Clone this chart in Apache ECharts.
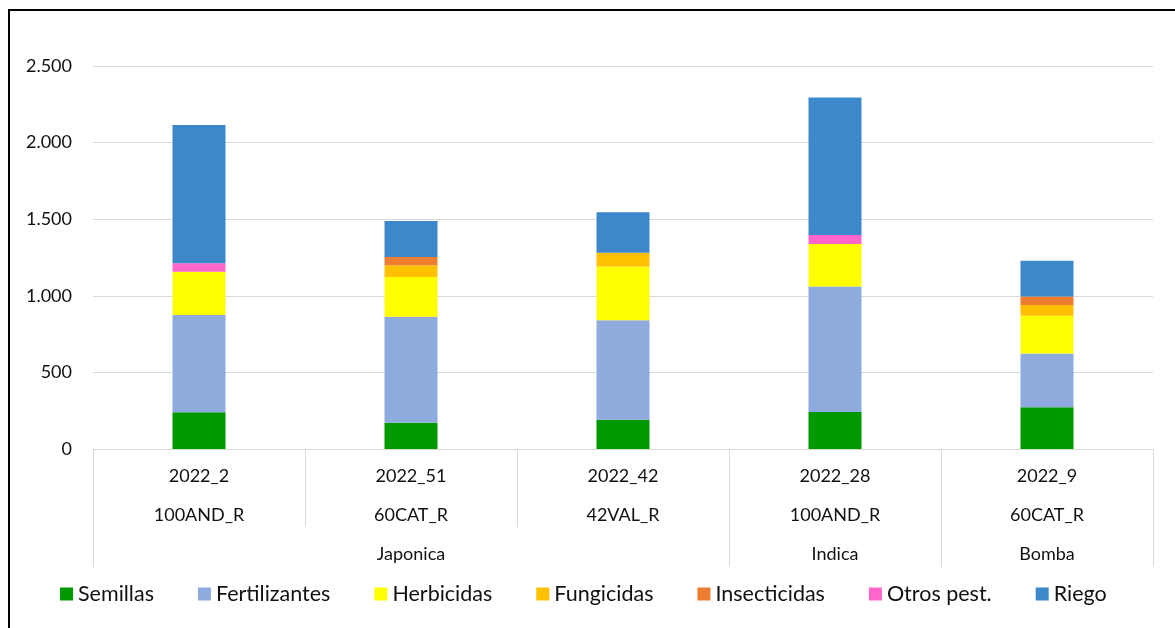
<!DOCTYPE html>
<html>
<head>
<meta charset="utf-8">
<script src="https://cdn.jsdelivr.net/npm/echarts@6/dist/echarts.min.js"></script>
<style>
  html, body { margin: 0; padding: 0; background: #fff; overflow: hidden; }
  #frame { position: absolute; left: 8px; top: 9px; width: 1300px; height: 800px; border: 2px solid #000; }
  #chart { position: absolute; left: 0; top: 0; width: 1175px; height: 628px; }
</style>
</head>
<body>
<div id="frame"></div>
<div id="chart"></div>
<script>
// categories: code + site, and the variety groups below them
const codes = ['2022_2', '2022_51', '2022_42', '2022_28', '2022_9'];
const sites = ['100AND_R', '60CAT_R', '42VAL_R', '100AND_R', '60CAT_R'];
const groups = ['Japonica', 'Indica', 'Bomba'];
const groupSizes = [3, 1, 1];

// stacked cost components
const semillas = [240, 172, 191, 241, 272];
const fertilizantes = [635, 692, 649, 819, 352];
const herbicidas = [282, 259, 352, 278, 246];
const fungicidas = [0, 76, 89, 0, 70];
const insecticidas = [0, 54, 0, 0, 56];
const otros = [55, 0, 0, 59, 0];
const riego = [903, 235, 264, 898, 233];

const seriesNames = ['Semillas', 'Fertilizantes', 'Herbicidas', 'Fungicidas', 'Insecticidas', 'Otros pest.', 'Riego'];
const seriesData = [semillas, fertilizantes, herbicidas, fungicidas, insecticidas, otros, riego];
const colors = ['#009900', '#8FAADC', '#FFFF00', '#FFC000', '#ED7D31', '#FF66CC', '#3D87CB'];

const font = 'Lato';
const textColor = '#111';
const gridColor = '#d9d9d9';

// group boundaries and centres along the category axis (0..n)
const bounds = [0];
const centres = [];
groupSizes.forEach(s => {
  const start = bounds[bounds.length - 1];
  centres.push(start + s / 2);
  bounds.push(start + s);
});

const fmt = v => String(v).replace(/\B(?=(\d{3})+(?!\d))/g, '.');

const chart = echarts.init(document.getElementById('chart'));
chart.setOption({
  animation: false,
  textStyle: { fontFamily: font },
  grid: { left: 93, right: 22, top: 66, bottom: 179 },
  legend: {
    data: seriesNames,
    left: 55,
    top: 578,
    icon: 'rect',
    itemWidth: 13,
    itemHeight: 13,
    itemGap: 44,
    selectedMode: false,
    textStyle: { fontFamily: font, fontSize: 21.5, color: textColor }
  },
  xAxis: [
    {
      type: 'category',
      data: codes.map((c, i) => c + '\n' + sites[i]),
      axisLine: { lineStyle: { color: gridColor, width: 1 } },
      axisTick: { show: true, length: 78, lineStyle: { color: gridColor } },
      axisLabel: {
        interval: 0, margin: 8, lineHeight: 39,
        fontFamily: font, fontSize: 18, color: textColor
      }
    },
    {
      type: 'value',
      position: 'bottom',
      min: 0,
      max: codes.length,
      axisLine: { show: false },
      splitLine: { show: false },
      axisTick: { show: true, length: 118, customValues: bounds, lineStyle: { color: gridColor } },
      axisLabel: {
        customValues: centres,
        margin: 96,
        fontFamily: font, fontSize: 18, color: textColor,
        formatter: v => groups[centres.indexOf(v)] || ''
      }
    }
  ],
  yAxis: {
    type: 'value',
    min: 0,
    max: 2500,
    interval: 500,
    axisLine: { show: false },
    axisTick: { show: false },
    splitLine: { lineStyle: { color: gridColor, width: 1 } },
    axisLabel: { margin: 21, fontFamily: font, fontSize: 18, color: textColor, formatter: fmt }
  },
  series: seriesNames.map((name, i) => ({
    name,
    type: 'bar',
    stack: 'total',
    barWidth: 53,
    itemStyle: { color: colors[i] },
    data: seriesData[i]
  }))
});
</script>
</body>
</html>
